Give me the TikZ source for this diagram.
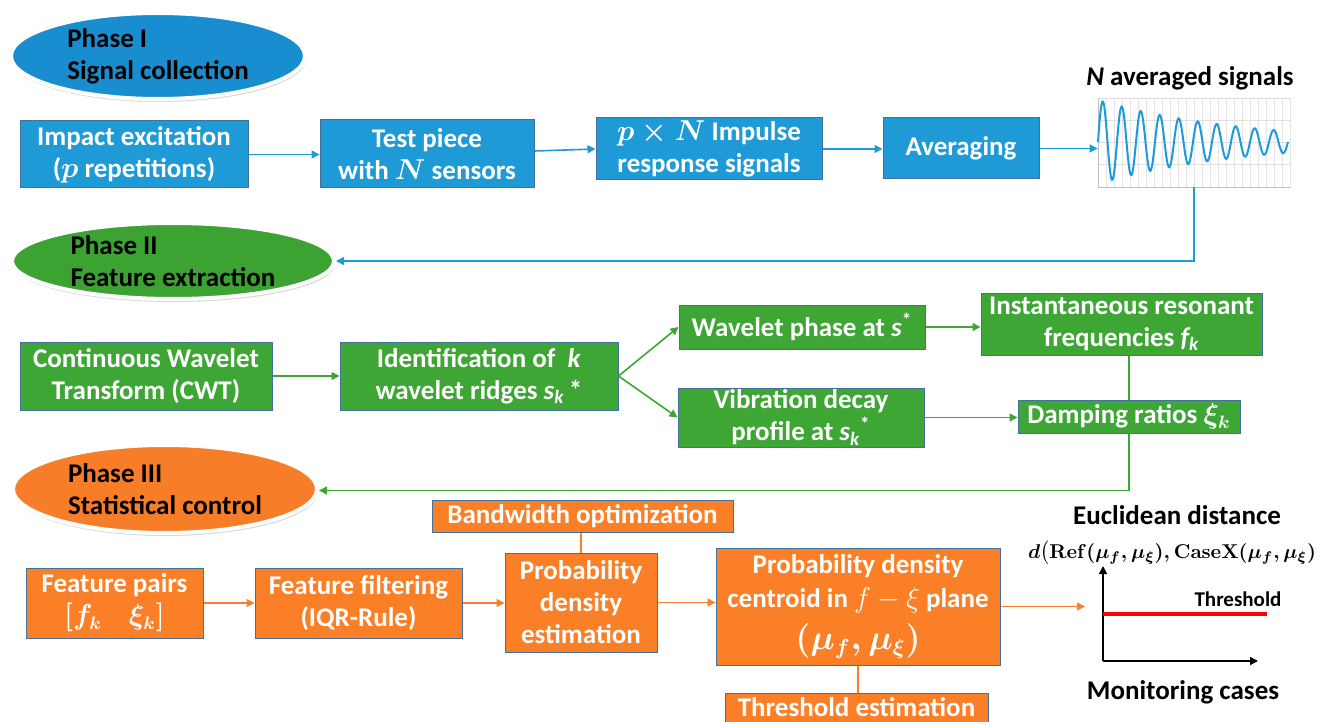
\documentclass[tikz,border=0pt]{standalone}
\usepackage{amsmath}
\usepackage[no-math]{fontspec}
\setmainfont{Carlito}
\usepackage{bm}
\usetikzlibrary{arrows.meta,shapes.geometric,shadows,calc}
\definecolor{cblue}{RGB}{30,155,215}
\definecolor{cgreen}{RGB}{62,166,53}
\definecolor{corange}{RGB}{250,127,38}
\definecolor{cedge}{RGB}{65,113,156}
\definecolor{eblue}{RGB}{24,142,208}
\definecolor{egreen}{RGB}{60,162,50}
\definecolor{eorange}{RGB}{248,125,40}
\tikzset{
  txt/.style={font=\bfseries\boldmath\fontsize{13.5}{16}\selectfont},
  sz/.style 2 args={minimum width={#1*0.5pt}, minimum height={#2*0.5pt}},
  box/.style={txt, draw=cedge, line width=0.5pt, text=white, align=center, inner sep=0pt},
  bbox/.style={box, fill=cblue},
  gbox/.style={box, fill=cgreen},
  obox/.style={box, fill=corange},
  phase/.style={ellipse, txt, draw=white, line width=2pt, text=black, align=left, inner sep=0pt,
    drop shadow={opacity=0.3, shadow xshift=0.5pt, shadow yshift=-1.5pt}},
  arr/.style={-{Triangle[length=4pt,width=4pt]}, line width=0.8pt},
}
\begin{document}
\begin{tikzpicture}[x=0.5pt,y=-0.5pt]
\useasboundingbox (0,0) rectangle (1324,722);

% ---------------- Phase I ----------------
\node[phase, fill=eblue, minimum width=147pt, minimum height=43pt] (ph1) at (158,56) {Phase I\\Signal collection};

\node[bbox, sz={228}{67}] (imp) at (134,154.5) {Impact excitation\\($p$ repetitions)};
\node[bbox, sz={214}{68}] (test) at (427,154) {Test piece\\with $N$ sensors};
\node[bbox, sz={226}{62}] (pxn) at (709,149) {$p\times N$ Impulse\\response signals};
\node[bbox, sz={156}{61}] (avg) at (961,148.5) {Averaging};

% chart 1
\node[inner sep=0pt, sz={192}{89}] (chart) at (1194,142.5) {};
\foreach \gx in {1106,1114,...,1290} \draw[gray!20, line width=0.3pt] (\gx,98) -- (\gx,187);
\foreach \gy in {98,120,142,164} \draw[gray!25, line width=0.3pt] (1098,\gy) -- (1290,\gy);
\draw[gray!50, line width=0.4pt] (1098,98) -- (1098,187) -- (1290,187);
\draw[cblue, line width=1pt] plot[domain=0:190, samples=300, smooth] ({1098+\x},{142-42*exp(-\x/140)*sin((\x/19)*360)});
\node[txt, text=black] (t1) at (1190,78) {\textit{N} averaged signals};

\draw[arr, cblue] (imp.east) -- (imp.east -| test.west);
\draw[arr, cblue] ($(test.east)+(0,-3)$) -- (pxn.west);
\draw[arr, cblue] (pxn.east) -- (pxn.east -| avg.west);
\draw[arr, cblue] (avg.east) -- (avg.east -| chart.west);

% ---------------- Phase II ----------------
\node[phase, fill=egreen, minimum width=161pt, minimum height=38pt] (ph2) at (173,261) {Phase II\\Feature extraction};
\draw[arr, cblue] (chart.south) |- (ph2.east);

\node[gbox, sz={252}{68}] (cwt) at (146,376) {Continuous Wavelet\\Transform (CWT)};
\node[gbox, sz={278}{68}] (ident) at (479,376) {Identification of \ \textit{k}\\wavelet ridges \textit{s\textsubscript{k}}\,*};
\node[gbox, sz={246}{44}] (wph) at (802,327) {Wavelet phase at \textit{s}\textsuperscript{*}};
\node[gbox, sz={281}{62}] (inst) at (1121.5,324) {Instantaneous resonant\\frequencies \textit{f\textsubscript{k}}};
\node[gbox, sz={246}{59}] (vib) at (801,417.5) {Vibration decay\\profile at \textit{s\textsubscript{k}}\textsuperscript{*}};
\node[gbox, sz={222}{33}] (damp) at (1129,416.5) {Damping ratios $\xi_k$};

\draw[arr, cgreen] (cwt.east) -- (cwt.east -| ident.west);
\draw[arr, cgreen] (ident.east) -- (wph.west);
\draw[arr, cgreen] (ident.east) -- (vib.west);
\draw[arr, cgreen] (wph.east) -- (wph.east -| inst.west);
\draw[arr, cgreen] (vib.east) -- (vib.east -| damp.west);
\draw[cgreen, line width=0.8pt] (damp.north) -- (damp.north |- inst.south);

% ---------------- Phase III ----------------
\node[phase, fill=eorange, minimum width=152pt, minimum height=44pt] (ph3) at (165,489) {Phase III\\Statistical control};
\coordinate (d3) at ($(damp.south)+(0,57)$);
\draw[arr, cgreen] (damp.south) -- (d3) -- (d3 -| ph3.east);

\node[obox, sz={177}{70}] (pairs) at (114.5,603) {Feature pairs\\$[f_k\quad \xi_k]$};
\node[obox, sz={207}{70}] (filt) at (358.5,603) {Feature filtering\\(IQR-Rule)};
\node[obox, sz={152}{99}] (pde) at (581,602.5) {Probability\\density\\estimation};
\node[obox, sz={301}{32}] (bw) at (582.5,516) {Bandwidth optimization};
\node[obox, sz={284}{117}] (cent) at (858,606.5) {Probability density\\[1pt]centroid in {\unboldmath$f-\xi$} plane\\[5pt]{\fontsize{16}{18}\selectfont$(\mu_f,\mu_\xi)$}};
\node[obox, sz={263}{29}] (thr) at (856.5,707.5) {Threshold estimation};

\draw[arr, corange] (pairs.east) -- (pairs.east -| filt.west);
\draw[arr, corange] (filt.east) -- (filt.east -| pde.west);
\draw[arr, corange] (pde.east) -- (pde.east -| cent.west);
\draw[corange, line width=0.8pt] (bw.south -| pde.north) -- (pde.north);
\draw[corange, line width=0.8pt] (cent.south) -- (cent.south |- thr.north);

% chart 2
\coordinate (o) at (1103,661);
\coordinate (ytop) at (1103,566);
\coordinate (xr) at (1258,661);
\coordinate (c2in) at (1085,604);
\draw[arr, corange] (cent.east) -- (cent.east -| c2in);
\draw[-{Triangle[length=4pt,width=4pt]}, line width=0.8pt] (o) -- (ytop);
\draw[-{Triangle[length=4pt,width=4pt]}, line width=0.8pt] (o) -- (xr);
\draw[red, line width=2pt] (1103,614) -- (1267,614);
\node[font=\bfseries\fontsize{10.5}{12}\selectfont] (thl) at (1238,599) {Threshold};
\node[txt] (eu) at (1177,515) {Euclidean distance};
\node[font=\boldmath\fontsize{10}{12}\selectfont] (fm) at (1172,553) {$d\bigl(\mathbf{Ref}(\mu_f,\mu_\xi),\mathbf{CaseX}(\mu_f,\mu_\xi)$};
\node[txt] (mc) at (1183,692) {Monitoring cases};
\end{tikzpicture}
\end{document}
